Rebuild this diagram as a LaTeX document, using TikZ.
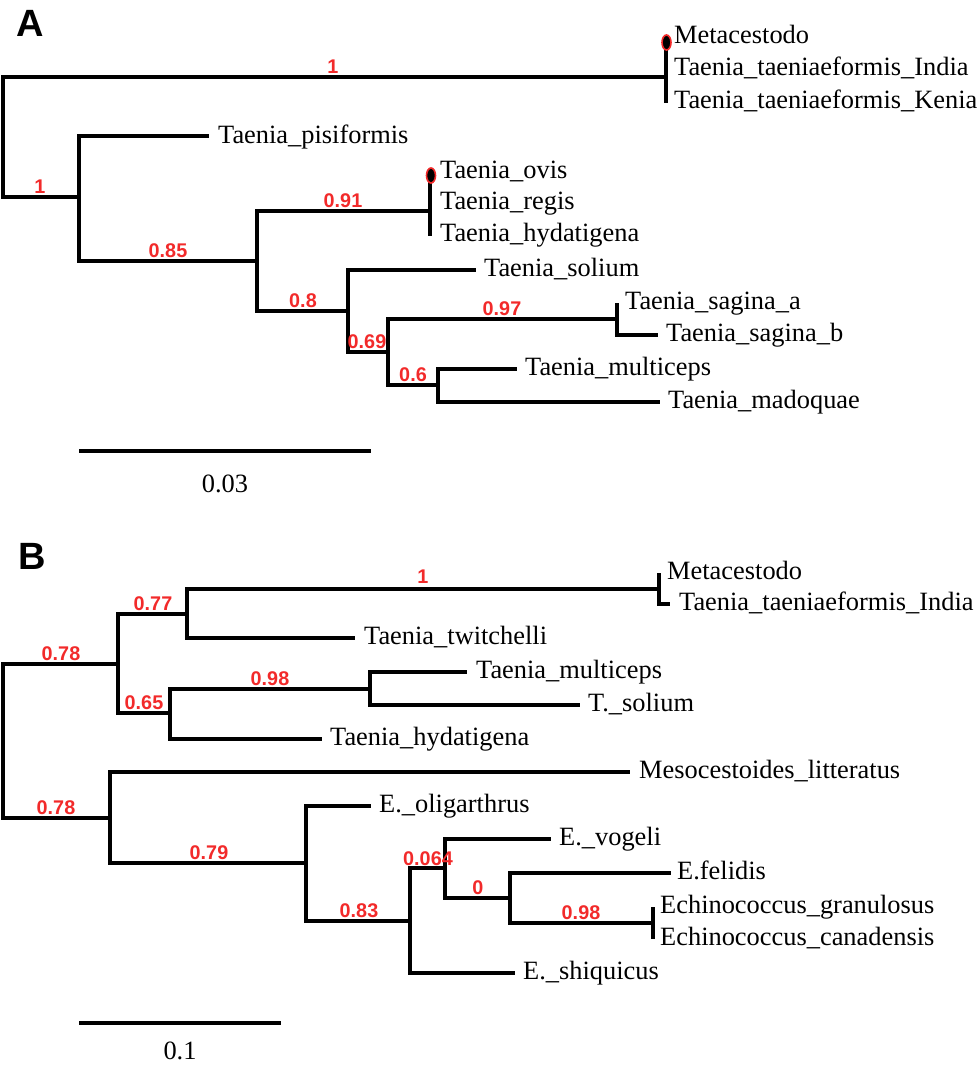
\documentclass[tikz,border=0pt]{standalone}
\usepackage{fontspec}
\setmainfont{Liberation Serif}
\setsansfont{Liberation Sans}
\usetikzlibrary{shapes.geometric}
\definecolor{labred}{RGB}{242,42,42}
\tikzset{
  br/.style={draw=black, line width=3.2bp, line join=miter},
  leaf/.style={anchor=base west, inner sep=0pt, font=\fontsize{26.4bp}{30bp}\selectfont},
  scl/.style={anchor=base, inner sep=0pt, font=\fontsize{26.4bp}{30bp}\selectfont},
  supp/.style={anchor=base, inner sep=0pt, text=labred, font=\fontsize{19.8bp}{22bp}\sffamily\bfseries\selectfont},
  panel/.style={anchor=north west, inner sep=0pt, font=\fontsize{38bp}{40bp}\sffamily\bfseries\selectfont},
  marker/.style={ellipse, draw=labred, fill=black, line width=1.6bp, minimum width=9bp, minimum height=15bp, inner sep=0pt}
}
\begin{document}
\begin{tikzpicture}[x=1bp,y=-1bp]
\useasboundingbox (0,0) rectangle (980,1065);
% ---------------- Panel A ----------------
\node[panel] (pA) at (16,10) {A};
\coordinate (rA) at (3,137);
\coordinate (c1) at (666,77);
\coordinate (lMetaA) at (666,37);
\coordinate (lKenA) at (666,103);
\coordinate (n1) at (79,197);
\coordinate (lPis) at (209,136);
\coordinate (n2) at (257,261);
\coordinate (c2) at (430,211);
\coordinate (lOvis) at (430,172);
\coordinate (lHydA) at (430,236);
\coordinate (n4) at (348,311);
\coordinate (lSolA) at (476,270);
\coordinate (n5) at (388,352);
\coordinate (n6) at (617,319);
\coordinate (lSagA) at (617,303);
\coordinate (lSagB) at (658,335);
\coordinate (n7) at (438,385);
\coordinate (lMult) at (517,369);
\coordinate (lMado) at (660,402);

\draw[br] (rA) |- (c1);
\draw[br] (rA) |- (n1);
\draw[br] (c1) -- (lMetaA);
\draw[br] (c1) -- (lKenA);
\draw[br] (n1) |- (lPis);
\draw[br] (n1) |- (n2);
\draw[br] (n2) |- (c2);
\draw[br] (n2) |- (n4);
\draw[br] (c2) -- (lOvis);
\draw[br] (c2) -- (lHydA);
\draw[br] (n4) |- (lSolA);
\draw[br] (n4) |- (n5);
\draw[br] (n5) |- (n6);
\draw[br] (n5) |- (n7);
\draw[br] (n6) -- (lSagA);
\draw[br] (n6) |- (lSagB);
\draw[br] (n7) |- (lMult);
\draw[br] (n7) |- (lMado);

\node[marker] (mkA1) at (666.5,42.5) {};
\node[marker] (mkA2) at (431,175.5) {};

\node[leaf] (tMetaA) at (674,43.5) {Metacestodo};
\node[leaf] (tIndA) at (674,75.5) {Taenia\_taeniaeformis\_India};
\node[leaf] (tKenA) at (674,108) {Taenia\_taeniaeformis\_Kenia};
\node[leaf] (tPis) at (218,143) {Taenia\_pisiformis};
\node[leaf] (tOvis) at (440,178) {Taenia\_ovis};
\node[leaf] (tReg) at (440,209.5) {Taenia\_regis};
\node[leaf] (tHydA) at (440,241) {Taenia\_hydatigena};
\node[leaf] (tSolA) at (484,276.5) {Taenia\_solium};
\node[leaf] (tSagA) at (625,309.5) {Taenia\_sagina\_a};
\node[leaf] (tSagB) at (666,341.5) {Taenia\_sagina\_b};
\node[leaf] (tMult) at (525,375.5) {Taenia\_multiceps};
\node[leaf] (tMado) at (668,408.5) {Taenia\_madoquae};

\node[supp] (sA1) at (333,73) {1};
\node[supp] (sA2) at (40,193) {1};
\node[supp] (sA3) at (168,257) {0.85};
\node[supp] (sA4) at (343,207) {0.91};
\node[supp] (sA5) at (303,307) {0.8};
\node[supp] (sA6) at (367,348) {0.69};
\node[supp] (sA7) at (502,315) {0.97};
\node[supp] (sA8) at (413,381) {0.6};

\coordinate (sbA1) at (79,451);
\coordinate (sbA2) at (371,451);
\draw[br] (sbA1) -- (sbA2);
\node[scl] (sbAt) at (225,492) {0.03};

% ---------------- Panel B ----------------
\node[panel] (pB) at (18,543) {B};
\coordinate (rB) at (3,741);
\coordinate (u) at (118,664);
\coordinate (u1) at (187,614);
\coordinate (cB) at (659,589);
\coordinate (lMetaB) at (659,573);
\coordinate (lIndB) at (670,604);
\coordinate (lTw) at (355,638);
\coordinate (u2) at (170,713);
\coordinate (u3) at (370,689);
\coordinate (lMultB) at (467,672);
\coordinate (lSolB) at (580,705);
\coordinate (lHydB) at (322,739);
\coordinate (lo) at (110,818);
\coordinate (lMeso) at (630,772);
\coordinate (l2) at (306,863);
\coordinate (lOlig) at (371,806);
\coordinate (l3) at (410,921);
\coordinate (l4) at (445,868);
\coordinate (lVog) at (551,839);
\coordinate (l5) at (510,898);
\coordinate (lFel) at (671,873);
\coordinate (l6) at (653,923);
\coordinate (lGran) at (653,907);
\coordinate (lCan) at (653,939);
\coordinate (lShiq) at (515,973);

\draw[br] (rB) |- (u);
\draw[br] (rB) |- (lo);
\draw[br] (u) |- (u1);
\draw[br] (u) |- (u2);
\draw[br] (u1) |- (cB);
\draw[br] (u1) |- (lTw);
\draw[br] (cB) -- (lMetaB);
\draw[br] (cB) |- (lIndB);
\draw[br] (u2) |- (u3);
\draw[br] (u2) |- (lHydB);
\draw[br] (u3) |- (lMultB);
\draw[br] (u3) |- (lSolB);
\draw[br] (lo) |- (lMeso);
\draw[br] (lo) |- (l2);
\draw[br] (l2) |- (lOlig);
\draw[br] (l2) |- (l3);
\draw[br] (l3) |- (l4);
\draw[br] (l3) |- (lShiq);
\draw[br] (l4) |- (lVog);
\draw[br] (l4) |- (l5);
\draw[br] (l5) |- (lFel);
\draw[br] (l5) |- (l6);
\draw[br] (l6) -- (lGran);
\draw[br] (l6) -- (lCan);

\node[leaf] (tMetaB) at (667,579.5) {Metacestodo};
\node[leaf] (tIndB) at (679,610.5) {Taenia\_taeniaeformis\_India};
\node[leaf] (tTw) at (364,644.5) {Taenia\_twitchelli};
\node[leaf] (tMultB) at (476,678.5) {Taenia\_multiceps};
\node[leaf] (tSolB) at (588,711.5) {T.\_solium};
\node[leaf] (tHydB) at (330,745.5) {Taenia\_hydatigena};
\node[leaf] (tMeso) at (639,778.5) {Mesocestoides\_litteratus};
\node[leaf] (tOlig) at (379,812.5) {E.\_oligarthrus};
\node[leaf] (tVog) at (559,845.5) {E.\_vogeli};
\node[leaf] (tFel) at (677,879.5) {E.felidis};
\node[leaf] (tGran) at (660,913.5) {Echinococcus\_granulosus};
\node[leaf] (tCan) at (660,945.5) {Echinococcus\_canadensis};
\node[leaf] (tShiq) at (523,979.5) {E.\_shiquicus};

\node[supp] (sB1) at (61,660) {0.78};
\node[supp] (sB2) at (153,610) {0.77};
\node[supp] (sB3) at (423,583) {1};
\node[supp] (sB4) at (270,685) {0.98};
\node[supp] (sB5) at (144,709) {0.65};
\node[supp] (sB6) at (56,814) {0.78};
\node[supp] (sB7) at (209,859) {0.79};
\node[supp] (sB8) at (359,917) {0.83};
\node[supp] (sB9) at (428,865) {0.064};
\node[supp] (sB10) at (478,894) {0};
\node[supp] (sB11) at (581,919) {0.98};

\coordinate (sbB1) at (79,1023);
\coordinate (sbB2) at (281,1023);
\draw[br] (sbB1) -- (sbB2);
\node[scl] (sbBt) at (180,1059) {0.1};
\end{tikzpicture}
\end{document}
